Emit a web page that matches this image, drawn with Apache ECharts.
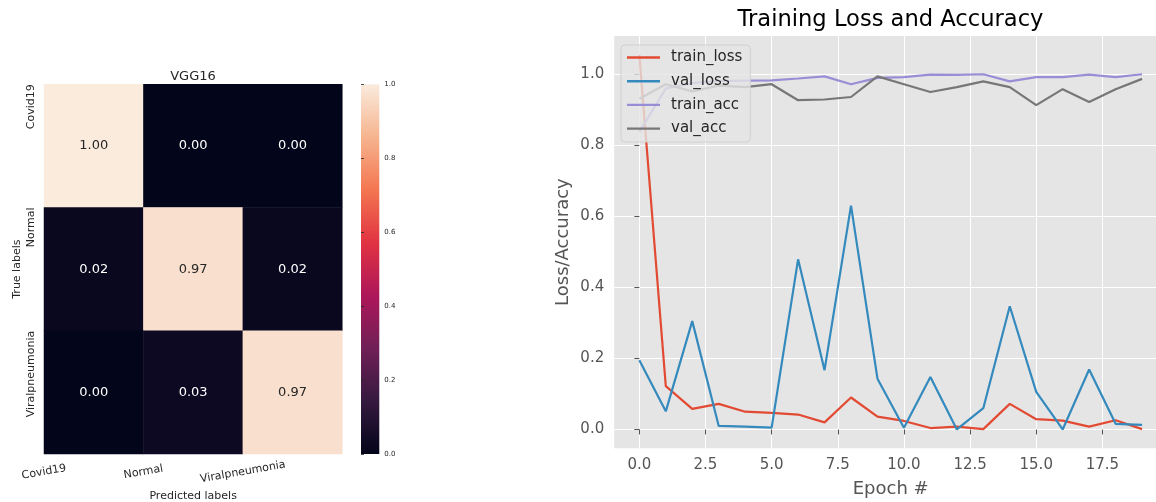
<!DOCTYPE html>
<html><head><meta charset="utf-8">
<script src="https://cdn.jsdelivr.net/npm/echarts@6/dist/echarts.min.js"></script>
<style>html,body{margin:0;padding:0;background:#fff}#c{width:1156px;height:502px}</style>
</head><body><div id="c"></div>
<script>
// ---- data ----
const classes = ['Covid19', 'Normal', 'Viralpneumonia'];
const cmRow0 = [1.00, 0.00, 0.00];
const cmRow1 = [0.02, 0.97, 0.02];
const cmRow2 = [0.00, 0.03, 0.97];
const epochs = [0,1,2,3,4,5,6,7,8,9,10,11,12,13,14,15,16,17,18,19];
const trainLoss = [1.055,0.122,0.058,0.072,0.050,0.047,0.042,0.020,0.090,0.036,0.024,0.004,0.008,0.001,0.072,0.029,0.025,0.008,0.026,0.001];
const valLoss   = [0.195,0.051,0.305,0.010,0.008,0.005,0.479,0.167,0.630,0.143,0.005,0.148,0.000,0.060,0.347,0.106,0.000,0.169,0.016,0.013];
const trainAcc  = [0.838,0.960,0.975,0.981,0.982,0.983,0.988,0.994,0.972,0.990,0.992,0.999,0.998,1.000,0.980,0.992,0.992,0.999,0.992,1.000];
const valAcc    = [0.931,0.972,0.952,0.968,0.964,0.972,0.927,0.929,0.936,0.994,0.972,0.950,0.964,0.980,0.964,0.913,0.958,0.922,0.958,0.987];
const seriesNames = ['train_loss', 'val_loss', 'train_acc', 'val_acc'];

// ---- styles ----
const rocket = ['#03051A','#35193E','#701F57','#AD1759','#E13342','#F37651','#F6B48F','#FAEBDD'];
const lineColors = ['#E24A33', '#348ABD', '#988ED5', '#777777'];
const dark = '#262626';

const cmRows = [cmRow0, cmRow1, cmRow2];
const heatData = [];
cmRows.forEach((row, i) => row.forEach((v, j) => heatData.push({
  value: [j, i, v], label: { color: v < 0.5 ? '#FFFFFF' : dark }
})));

const lineSets = [trainLoss, valLoss, trainAcc, valAcc];
const lineSeries = lineSets.map((arr, k) => ({
  type: 'line', name: seriesNames[k], xAxisIndex: 3, yAxisIndex: 3,
  data: epochs.map((e, i) => [e, arr[i]]),
  symbol: 'none', showSymbol: false, smooth: false,
  lineStyle: { color: lineColors[k], width: 2.2 },
  itemStyle: { color: lineColors[k] },
  emphasis: { disabled: true }
}));

const stops = rocket.map((c, i) => ({ offset: i / (rocket.length - 1), color: c }));

const chart = echarts.init(document.getElementById('c'));
chart.setOption({
  animation: false,
  textStyle: { fontFamily: 'DejaVu Sans' },
  title: [
    { text: 'VGG16', left: 193, top: 70, textAlign: 'center', padding: 0,
      textStyle: { fontSize: 13, fontWeight: 'normal', color: dark } },
    { text: 'Training Loss and Accuracy', left: 890.5, top: 9, textAlign: 'center', padding: 0,
      textStyle: { fontSize: 22.6, fontWeight: 'normal', color: '#000' } }
  ],
  legend: {
    data: seriesNames, orient: 'vertical', left: 621, top: 45,
    padding: [5, 8, 6, 6], itemWidth: 33, itemHeight: 2.4, itemGap: 8.7, icon: 'rect',
    backgroundColor: 'rgba(229,229,229,0.8)', borderColor: 'rgba(204,204,204,0.8)',
    borderWidth: 1, borderRadius: 4,
    textStyle: { fontSize: 15, color: dark, padding: [0, 0, 0, 6] }
  },
  grid: [
    { left: 44, top: 84.3, width: 298.3, height: 369.7, outerBoundsMode: 'none', containLabel: false },
    { left: 361, top: 84.3, width: 18.3, height: 369.7, show: true, borderWidth: 0, outerBoundsMode: 'none', containLabel: false,
      backgroundColor: new echarts.graphic.LinearGradient(0, 1, 0, 0, stops) },
    { left: 614.2, top: 35.9, width: 553, height: 412.4, show: true, borderWidth: 0, backgroundColor: '#E5E5E5',
      outerBoundsMode: 'none', containLabel: false }
  ],
  xAxis: [
    { gridIndex: 0, type: 'category', data: classes, show: false },
    { gridIndex: 0, type: 'value', min: 0, max: 3, interval: 1, position: 'bottom',
      axisLine: { show: false }, axisTick: { show: false }, splitLine: { show: false },
      axisLabel: { formatter: v => classes[v] || '', rotate: 10, align: 'center', verticalAlign: 'middle',
        margin: 18, fontSize: 11, color: dark, showMaxLabel: false },
      name: 'Predicted labels', nameLocation: 'middle', nameGap: 35,
      nameTextStyle: { fontSize: 11, color: dark } },
    { gridIndex: 1, type: 'value', min: 0, max: 1, show: false },
    { gridIndex: 2, type: 'value', min: -0.95, max: 19.95, minInterval: 2.5, maxInterval: 2.5,
      axisLine: { show: false },
      axisTick: { show: true, length: 5, lineStyle: { color: '#555555' } },
      axisLabel: { formatter: v => v.toFixed(1), showMinLabel: false, showMaxLabel: false,
        color: '#555555', fontSize: 15, margin: 9 },
      splitLine: { show: true, showMinLine: false, showMaxLine: false, lineStyle: { color: '#FFFFFF', width: 1 } },
      name: 'Epoch #', nameLocation: 'middle', nameGap: 32,
      nameTextStyle: { fontSize: 18, color: '#555555' } }
  ],
  yAxis: [
    { gridIndex: 0, type: 'category', data: classes, inverse: true, show: false },
    { gridIndex: 0, type: 'value', min: 0, max: 3, interval: 1, inverse: true, position: 'left',
      axisLine: { show: false }, axisTick: { show: false }, splitLine: { show: false },
      axisLabel: { formatter: v => classes[v] || '', rotate: 90, align: 'right', verticalAlign: 'bottom',
        margin: 7, fontSize: 11, color: dark, showMaxLabel: false },
      name: 'True labels', nameLocation: 'middle', nameGap: 21,
      nameTextStyle: { fontSize: 11, color: dark } },
    { gridIndex: 1, type: 'value', min: 0, max: 1, interval: 0.2, position: 'right',
      axisLine: { show: false }, splitLine: { show: false },
      axisTick: { show: true, length: 3, lineStyle: { color: dark, width: 0.8 } },
      axisLabel: { formatter: v => v.toFixed(1), fontSize: 7, color: dark, margin: 5 } },
    { gridIndex: 2, type: 'value', min: -0.053, max: 1.108, minInterval: 0.2, maxInterval: 0.2,
      axisLine: { show: false },
      axisTick: { show: true, length: 5, lineStyle: { color: '#555555' } },
      axisLabel: { formatter: v => v.toFixed(1), showMinLabel: false, showMaxLabel: false,
        color: '#555555', fontSize: 15, margin: 10 },
      splitLine: { show: true, showMinLine: false, showMaxLine: false, lineStyle: { color: '#FFFFFF', width: 1 } },
      name: 'Loss/Accuracy', nameLocation: 'middle', nameGap: 42,
      nameTextStyle: { fontSize: 18, color: '#555555' } }
  ],
  visualMap: { type: 'continuous', min: 0, max: 1, show: false, seriesIndex: 0, inRange: { color: rocket } },
  series: [
    { type: 'heatmap', xAxisIndex: 0, yAxisIndex: 0, data: heatData,
      label: { show: true, fontSize: 13, formatter: p => p.value[2].toFixed(2) },
      emphasis: { disabled: true } }
  ].concat(lineSeries)
});
</script></body></html>
